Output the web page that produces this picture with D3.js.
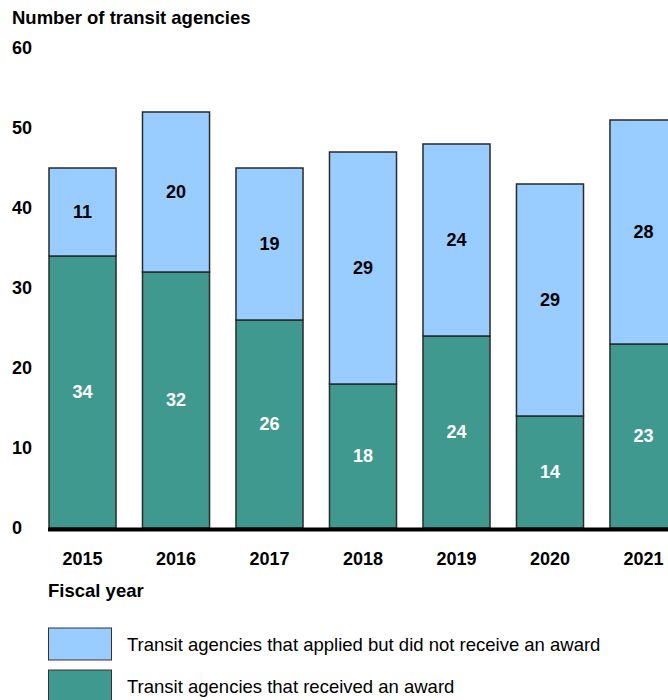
<!DOCTYPE html>
<html><head><meta charset="utf-8">
<script src="https://cdn.jsdelivr.net/npm/d3@7"></script>
<style>body{margin:0;background:#fff}svg{display:block;font-family:"Liberation Sans",Arial,sans-serif}</style>
</head><body><svg id="c" width="668" height="700"></svg>
<script>
const years = ["2015","2016","2017","2018","2019","2020","2021"];
const awarded = [34,32,26,18,24,14,23];
const notAwarded = [11,20,19,29,24,29,28];
const yTicks = [0,10,20,30,40,50,60];
const seriesNames = ["Transit agencies that applied but did not receive an award","Transit agencies that received an award"];
const colors = ["#99ccff","#40998f"];

const svg = d3.select("#c");
const x = d3.scaleBand().domain(years).range([49,677]).paddingInner(0.283).paddingOuter(0);
const y = d3.scaleLinear().domain([0,60]).range([528,48]);

svg.append("text").attr("x",12).attr("y",24).attr("font-size",18.5).attr("font-weight","bold").text("Number of transit agencies");

svg.selectAll(".yt").data(yTicks).join("text").attr("x",12).attr("y",d=>y(d)).attr("dy","0.36em")
  .attr("font-size",18).attr("font-weight","bold").text(d=>d);

const data = years.map((yr,i)=>({yr,a:awarded[i],n:notAwarded[i]}));
const g = svg.append("g");
g.selectAll(".ba").data(data).join("rect").attr("x",d=>x(d.yr)).attr("width",x.bandwidth())
  .attr("y",d=>y(d.a)).attr("height",d=>y(0)-y(d.a)).attr("fill",colors[1]).attr("stroke","#2a2a2a").attr("stroke-width",1.5);
g.selectAll(".bn").data(data).join("rect").attr("x",d=>x(d.yr)).attr("width",x.bandwidth())
  .attr("y",d=>y(d.a+d.n)).attr("height",d=>y(d.a)-y(d.a+d.n)).attr("fill",colors[0]).attr("stroke","#2a2a2a").attr("stroke-width",1.5);

g.selectAll(".la").data(data).join("text").attr("x",d=>x(d.yr)+x.bandwidth()/2).attr("y",d=>y(d.a/2)).attr("dy","0.36em")
  .attr("text-anchor","middle").attr("font-size",18).attr("font-weight","bold").attr("fill","#fff").text(d=>d.a);
g.selectAll(".ln").data(data).join("text").attr("x",d=>x(d.yr)+x.bandwidth()/2).attr("y",d=>y(d.a+d.n/2)).attr("dy","0.36em")
  .attr("text-anchor","middle").attr("font-size",18).attr("font-weight","bold").attr("fill","#000").text(d=>d.n);

svg.append("line").attr("x1",48).attr("x2",668).attr("y1",y(0)+1.5).attr("y2",y(0)+1.5).attr("stroke","#000").attr("stroke-width",4);

svg.selectAll(".xt").data(years).join("text").attr("x",d=>x(d)+x.bandwidth()/2).attr("y",565)
  .attr("text-anchor","middle").attr("font-size",18).attr("font-weight","bold").text(d=>d);

svg.append("text").attr("x",48).attr("y",597).attr("font-size",18.5).attr("font-weight","bold").text("Fiscal year");

const leg = svg.selectAll(".lg").data(seriesNames).join("g").attr("transform",(d,i)=>`translate(48,${628+i*42})`);
leg.append("rect").attr("x",0.5).attr("y",0).attr("width",63).attr("height",32).attr("fill",(d,i)=>colors[i]).attr("stroke","#333").attr("stroke-width",1);
leg.append("text").attr("x",79).attr("y",16).attr("dy","0.36em").attr("font-size",18.5).text(d=>d);
</script></body></html>
